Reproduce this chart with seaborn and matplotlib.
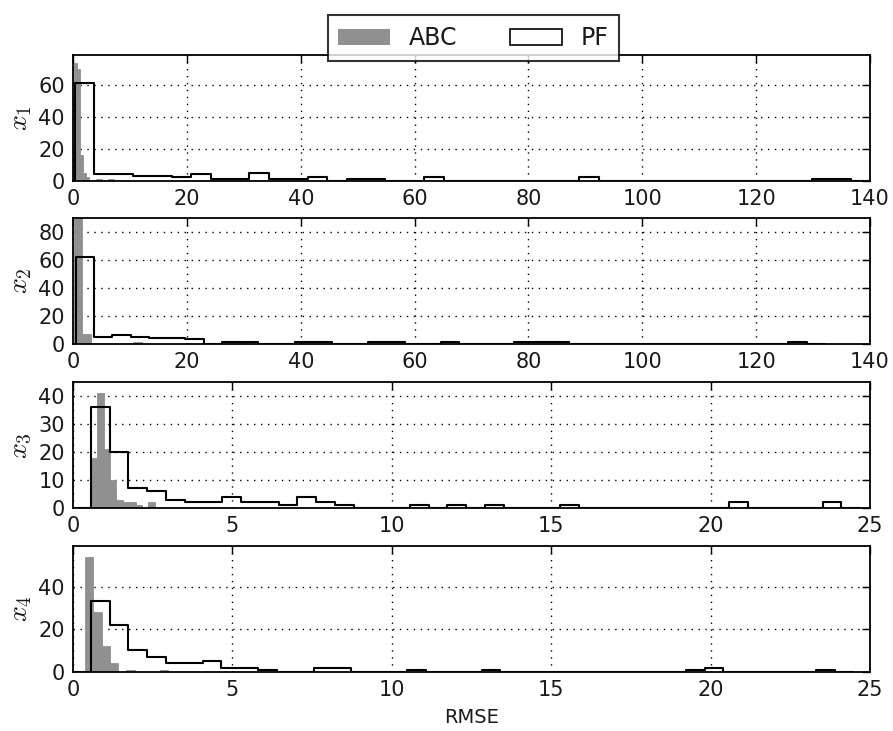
import numpy as np
import pandas as pd
import matplotlib
matplotlib.use("Agg")
import matplotlib.pyplot as plt
import seaborn as sns
from matplotlib.patches import Patch

sns.set_theme(style="white")
plt.rcParams["font.family"] = ["DejaVu Sans"]
plt.rcParams["mathtext.fontset"] = "cm"
plt.rcParams["text.color"] = "#1a1a1a"
plt.rcParams["axes.labelcolor"] = "#1a1a1a"

# Binned RMSE counts over 100 runs: first bin edge, bin width, counts per bin
abc_x1_start, abc_x1_width = 0.12, 0.55
abc_x1_counts = [74, 70, 16, 5, 2, 0, 0, 1, 1, 0, 0, 1, 1]
pf_x1_start, pf_x1_width = 0.3, 3.41
pf_x1_counts = [61, 4, 4, 3, 3, 2, 4, 1, 1, 5, 1, 1, 2, 0, 1, 1, 0, 0, 2, 0,
                0, 0, 0, 0, 0, 0, 2, 0, 0, 0, 0, 0, 0, 0, 0, 0, 0, 0, 1, 1]

abc_x2_start, abc_x2_width = 0.1, 1.5
abc_x2_counts = [92, 7, 0, 0, 0, 0, 0, 1]
pf_x2_start, pf_x2_width = 0.47, 3.21
pf_x2_counts = [62, 5, 6, 5, 4, 4, 3, 0, 1, 1, 0, 0, 1, 1, 0, 0, 1, 1, 0, 0,
                1, 0, 0, 0, 1, 1, 1, 0, 0, 0, 0, 0, 0, 0, 0, 0, 0, 0, 0, 1]

abc_x3_start, abc_x3_width = 0.56, 0.2
abc_x3_counts = [18, 41, 21, 10, 3, 2, 2, 1, 0, 2]
pf_x3_start, pf_x3_width = 0.56, 0.5885
pf_x3_counts = [36, 20, 7, 6, 3, 2, 2, 4, 2, 2, 1, 4, 2, 1, 0, 0, 0, 1, 0, 1,
                0, 1, 0, 0, 0, 1, 0, 0, 0, 0, 0, 0, 0, 0, 2, 0, 0, 0, 0, 2]

abc_x4_start, abc_x4_width = 0.375, 0.26
abc_x4_counts = [54, 28, 12, 4, 0, 1, 0, 0, 0, 1]
pf_x4_start, pf_x4_width = 0.57, 0.583
pf_x4_counts = [33, 22, 10, 7, 4, 4, 5, 2, 2, 1, 0, 0, 2, 2, 0, 0, 0, 1, 0, 0,
                0, 1, 0, 0, 0, 0, 0, 0, 0, 0, 0, 0, 1, 2, 0, 0, 0, 0, 0, 1]

state_labels = ["$x_1$", "$x_2$", "$x_3$", "$x_4$"]
x_limits = [140, 140, 25, 25]
x_steps = [20, 20, 5, 5]
y_limits = [79, 90, 45, 59]
y_ticks = [[0, 20, 40, 60], [0, 20, 40, 60, 80], [0, 10, 20, 30, 40], [0, 20, 40]]
series_labels = ["ABC", "PF"]

abc_series = [(abc_x1_start, abc_x1_width, abc_x1_counts),
              (abc_x2_start, abc_x2_width, abc_x2_counts),
              (abc_x3_start, abc_x3_width, abc_x3_counts),
              (abc_x4_start, abc_x4_width, abc_x4_counts)]
pf_series = [(pf_x1_start, pf_x1_width, pf_x1_counts),
             (pf_x2_start, pf_x2_width, pf_x2_counts),
             (pf_x3_start, pf_x3_width, pf_x3_counts),
             (pf_x4_start, pf_x4_width, pf_x4_counts)]

ABC_COLOR = "#909090"


def draw_hist(ax, start, width, counts, **kws):
    """Histogram from pre-binned counts, padded with an empty bin on each side
    so the step outline closes down to zero."""
    counts = np.asarray(counts, dtype=float)
    edges = start + width * np.arange(-1, len(counts) + 2)
    frame = pd.DataFrame({
        "rmse": (edges[:-1] + edges[1:]) / 2,
        "n": np.concatenate([[0.0], counts, [0.0]]),
    })
    sns.histplot(data=frame, x="rmse", weights="n", bins=edges.tolist(),
                 ax=ax, **kws)


fig = plt.figure(figsize=(8.93, 7.31), dpi=100)
left, width = 0.0818, 0.8925
bottoms = [0.753, 0.530, 0.305, 0.081]
height = 0.172

for i in range(4):
    ax = fig.add_axes([left, bottoms[i], width, height])
    s, w, c = abc_series[i]
    draw_hist(ax, s, w, c, element="bars", fill=True, color=ABC_COLOR,
              alpha=1.0, linewidth=0.6, edgecolor=ABC_COLOR)
    s, w, c = pf_series[i]
    draw_hist(ax, s, w, c, element="step", fill=False, color="black",
              linewidth=1.5)

    ax.set_xlim(0, x_limits[i])
    ax.set_xticks(np.arange(0, x_limits[i] + 1, x_steps[i]))
    ax.set_ylim(0, y_limits[i])
    ax.set_yticks(y_ticks[i])
    ax.set_ylabel(state_labels[i], fontsize=20, labelpad=3)
    ax.set_xlabel("")
    ax.set_axisbelow(True)
    ax.grid(True, linestyle=(0, (1, 4)), color="black", linewidth=1.0)
    ax.tick_params(direction="in", top=True, right=True, length=6, width=1,
                   labelsize=15, pad=6, colors="black",
                   labelcolor="#1a1a1a")
    for sp in ax.spines.values():
        sp.set_color("black")
        sp.set_linewidth(1.3)
    if i == 3:
        ax.set_xlabel("RMSE", fontsize=14, labelpad=6)

handles = [Patch(facecolor=ABC_COLOR, edgecolor="none"),
           Patch(facecolor="white", edgecolor="black", linewidth=1.2)]
leg = fig.legend(handles, series_labels, loc="upper center",
                 bbox_to_anchor=(0.53, 0.995), ncol=2, frameon=True,
                 fancybox=False, edgecolor="black", fontsize=17,
                 handlelength=2.2, handleheight=0.65, columnspacing=2.2,
                 handletextpad=0.8, borderpad=0.45)
leg.get_frame().set_linewidth(1.5)

fig.savefig("out.png", dpi=100, facecolor="white")
